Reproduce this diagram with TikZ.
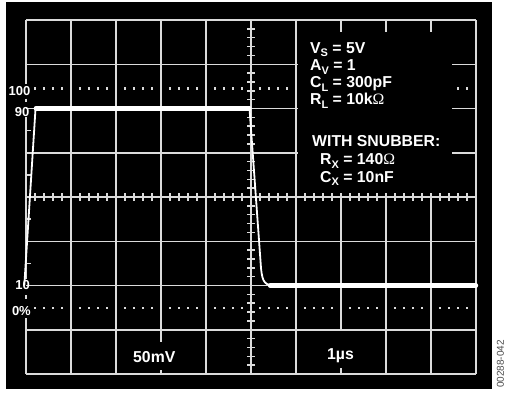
\documentclass[tikz,border=0pt]{standalone}
\usepackage{fontspec}
\setmainfont{Liberation Sans}
\newfontfamily\omfont{Liberation Serif}
\newcommand{\lsub}[1]{\raisebox{-3.7pt}{\fontsize{11}{11}\selectfont #1}}
\newcommand{\myohm}{{\omfont\mdseries Ω}}
\definecolor{gridc}{gray}{0.86}
\definecolor{numc}{gray}{0.3}
\begin{document}
\begin{tikzpicture}[x=1pt,y=-1pt,
  gridln/.style={draw=gridc, line width=1.5pt},
  dotmark/.style={fill=gridc},
  edge/.style={draw=white, line width=1.8pt},
  plat/.style={draw=white, line width=4.3pt, line cap=round},
  lab/.style={text=white, inner sep=0pt, font=\bfseries\fontsize{13}{13}\selectfont},
  txt/.style={text=white, inner sep=0pt, anchor=base west, font=\bfseries\fontsize{15.8}{15.8}\selectfont}]
\useasboundingbox (0,0) rectangle (507,392);
\fill[white] (0,0) rectangle (507,392);
\fill[black] (6,2) rectangle (492,389);
% horizontal grid lines
\draw[gridln] (26,20) -- (476,20);
\draw[gridln] (26,374) -- (476,374);
\foreach \y in {64.25,108.5,152.75} {
  \draw[gridln] (26,\y) -- (298,\y);
  \draw[gridln] (452,\y) -- (476,\y);
}
\foreach \y in {197,241.25,285.5,329.75} \draw[gridln] (26,\y) -- (476,\y);
% vertical grid lines
\draw[gridln] (476,20) -- (476,374);
\foreach \x in {71,116,206,251,296} \draw[gridln] (\x,20) -- (\x,374);
\draw[gridln] (161,20) -- (161,342);
\draw[gridln] (161,370) -- (161,374);
\draw[gridln] (341,20) -- (341,32);
\draw[gridln] (341,197) -- (341,331);
\draw[gridln] (341,368) -- (341,374);
\foreach \x in {386,431} {
  \draw[gridln] (\x,20) -- (\x,32);
  \draw[gridln] (\x,197) -- (\x,374);
}
% left border with gaps
\draw[gridln] (26,20) -- (26,84);
\draw[gridln] (26,98.5) -- (26,101.5);
\draw[gridln] (26,117) -- (26,279);
\draw[gridln] (26,295) -- (26,299);
\draw[gridln] (26,318) -- (26,374);
\foreach \y in {130.6,174.9,219.1,263.4} \draw[gridln] (26,\y) -- (31,\y);
% centre ticks
\foreach \k in {1,...,49} \draw[gridln] ({26+9*\k},193) -- ({26+9*\k},201);
\foreach \k in {1,...,39} \draw[gridln] (247,{20+8.85*\k}) -- (255,{20+8.85*\k});
% dotted 0% and 100% lines
\foreach \k in {1,...,49} {
  \pgfmathtruncatemacro\m{mod(\k,5)}
  \ifnum\m>0
    \fill[dotmark] ({26+9*\k-1.3},306.7) rectangle +(2.6,2.6);
  \fi
}
\foreach \k in {1,...,29,48,49} {
  \pgfmathtruncatemacro\m{mod(\k,5)}
  \ifnum\m>0
    \fill[dotmark] ({26+9*\k-1.3},87.2) rectangle +(2.6,2.6);
  \fi
}
% trace
\draw[edge] (24.3,285.5) -- (35.5,109);
\draw[plat] (35.8,108.5) -- (249.5,108.5);
\draw[edge] (249.5,108.5) -- (261,268) .. controls (262.5,283) and (265,285.5) .. (276,285.5);
\draw[plat] (270,285.5) -- (476,285.5);
% level labels
\node[lab, anchor=east] (l100) at (30.5,91) {100};
\node[lab, anchor=east] (l90) at (29.5,112) {90};
\node[lab, anchor=east] (l10) at (30,285.5) {10};
\node[lab, anchor=east] (l0) at (31,311) {0\%};
% parameter text
\node[txt] (vs) at (310,53) {V\lsub{S} = 5V};
\node[txt] (av) at (310,70.5) {A\lsub{V} = 1};
\node[txt] (cl) at (310,87.5) {C\lsub{L} = 300pF};
\node[txt] (rl) at (310,104.5) {R\lsub{L} = 10k\myohm};
\node[txt] (ws) at (312,146) {WITH SNUBBER:};
\node[txt] (rx) at (320,164.5) {R\lsub{X} = 140\myohm};
\node[txt] (cx) at (320,182) {C\lsub{X} = 10nF};
% scale labels
\node[txt] (mv) at (133,362.5) {50mV};
\node[txt] (us) at (327,359) {1µs};
% figure number
\node[rotate=90, text=numc, inner sep=0pt, font=\fontsize{10}{10}\selectfont] (fig) at (500.5,364) {00288-042};
\end{tikzpicture}
\end{document}
